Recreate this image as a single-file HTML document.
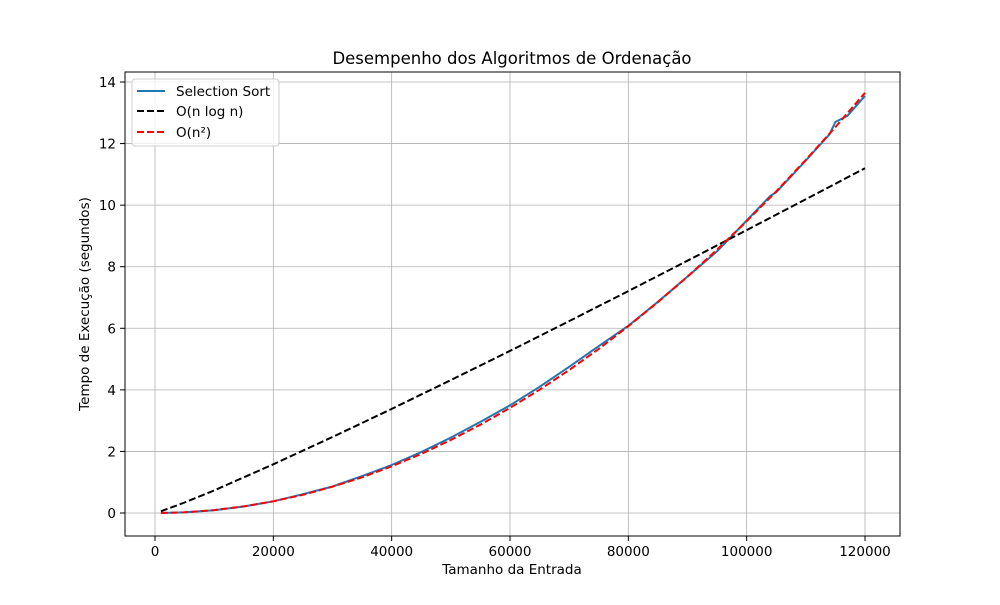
<!DOCTYPE html>
<html><head><meta charset="utf-8"><style>
body{margin:0;background:#fff}
svg text{font-family:"DejaVu Sans","Liberation Sans",sans-serif;fill:#000}
</style></head><body>
<svg id="chart" width="1000" height="600" xmlns="http://www.w3.org/2000/svg">
<rect width="1000" height="600" fill="#fff"/>
<g id="grid"></g>
<g id="series"></g>
<rect x="125" y="72" width="775" height="464" fill="none" stroke="#000" stroke-width="1"/>
<g id="ticks"></g>
<text x="512" y="64" font-size="16.5" text-anchor="middle">Desempenho dos Algoritmos de Ordenação</text>
<text x="512" y="574" font-size="13.5" text-anchor="middle">Tamanho da Entrada</text>
<text transform="translate(89,304) rotate(-90)" font-size="13.5" text-anchor="middle">Tempo de Execução (segundos)</text>
<g>
<rect x="132" y="79" width="147" height="67" rx="3" fill="#fff" fill-opacity="0.8" stroke="#ccc"/>
<line x1="137" y1="91" x2="165" y2="91" stroke="#1f77b4" stroke-width="2"/>
<text x="176" y="96" font-size="13.5">Selection Sort</text>
<line x1="137" y1="111" x2="165" y2="111" stroke="#000" stroke-width="2" stroke-dasharray="7,3"/>
<text x="176" y="116" font-size="13.5">O(n log n)</text>
<line x1="137" y1="132" x2="165" y2="132" stroke="#f00" stroke-width="2" stroke-dasharray="7,3"/>
<text x="176" y="137" font-size="13.5">O(n²)</text>
</g>
</svg>
<script>
const selX=[1000,5000,10000,15000,20000,25000,30000,35000,40000,45000,50000,55000,60000,65000,70000,75000,80000,85000,90000,95000,100000,103000,104000,105000,110000,114000,115000,117000,120000];
const selY=[0.001,0.02,0.09,0.21,0.38,0.61,0.86,1.20,1.56,1.98,2.45,2.96,3.50,4.10,4.75,5.42,6.08,6.86,7.68,8.50,9.50,10.1,10.3,10.42,11.45,12.3,12.7,12.9,13.55];
const nX=[1000,5000,10000,15000,20000,25000,30000,35000,40000,45000,50000,55000,60000,65000,70000,75000,80000,85000,90000,95000,100000,105000,110000,115000,120000];
const n2Y=[0.001,0.024,0.095,0.213,0.379,0.592,0.853,1.161,1.517,1.919,2.370,2.868,3.413,4.005,4.645,5.332,6.067,6.849,7.678,8.555,9.479,10.451,11.470,12.536,13.650];
const nlX=[1000,5000,10000,20000,30000,40000,50000,60000,70000,80000,90000,100000,110000,120000];
const nlY=[0.055,0.340,0.735,1.581,2.468,3.383,4.317,5.266,6.232,7.208,8.194,9.188,10.19,11.2];
const xTicks=[0,20000,40000,60000,80000,100000,120000];
const yTicks=[0,2,4,6,8,10,12,14];
const NS="http://www.w3.org/2000/svg";
const X=v=>155+v*(710/120000);
const Y=v=>513-v*(431/14);
function mk(tag,attrs,parent){const e=document.createElementNS(NS,tag);for(const k in attrs)e.setAttribute(k,attrs[k]);parent.appendChild(e);return e;}
const grid=document.getElementById('grid'),ticks=document.getElementById('ticks'),series=document.getElementById('series');
xTicks.forEach(t=>{
 const g=mk('line',{x1:X(t),x2:X(t),y1:72,y2:536,stroke:'#b0b0b0','stroke-width':0.8},grid);
 
 const tk=mk('line',{x1:X(t),x2:X(t),y1:536,y2:541,stroke:'#000'},ticks);
 
 const tx=mk('text',{x:X(t),y:556,'font-size':13.5,'text-anchor':'middle'},ticks);tx.textContent=t;
 
});
yTicks.forEach(t=>{
 const g=mk('line',{x1:125,x2:900,y1:Y(t),y2:Y(t),stroke:'#b0b0b0','stroke-width':0.8},grid);
 
 const tk=mk('line',{x1:120,x2:125,y1:Y(t),y2:Y(t),stroke:'#000'},ticks);
 
 const tx=mk('text',{x:116,y:Y(t)+5,'font-size':13.5,'text-anchor':'end'},ticks);tx.textContent=t;
 
});
function line(xs,ys,color,dash,name){
 const d=xs.map((x,i)=>(i?'L':'M')+X(x).toFixed(1)+','+Y(ys[i]).toFixed(1)).join('');
 const p=mk('path',{d:d,fill:'none',stroke:color,'stroke-width':2},series);
 if(dash)p.setAttribute('stroke-dasharray',dash);
 
 
}
line(selX,selY,'#1f77b4',null,'selection-sort-line');
line(nlX,nlY,'#000','7,3','nlogn-line');
line(nX,n2Y,'#f00','7,3','n-squared-line');
</script>
</body></html>
